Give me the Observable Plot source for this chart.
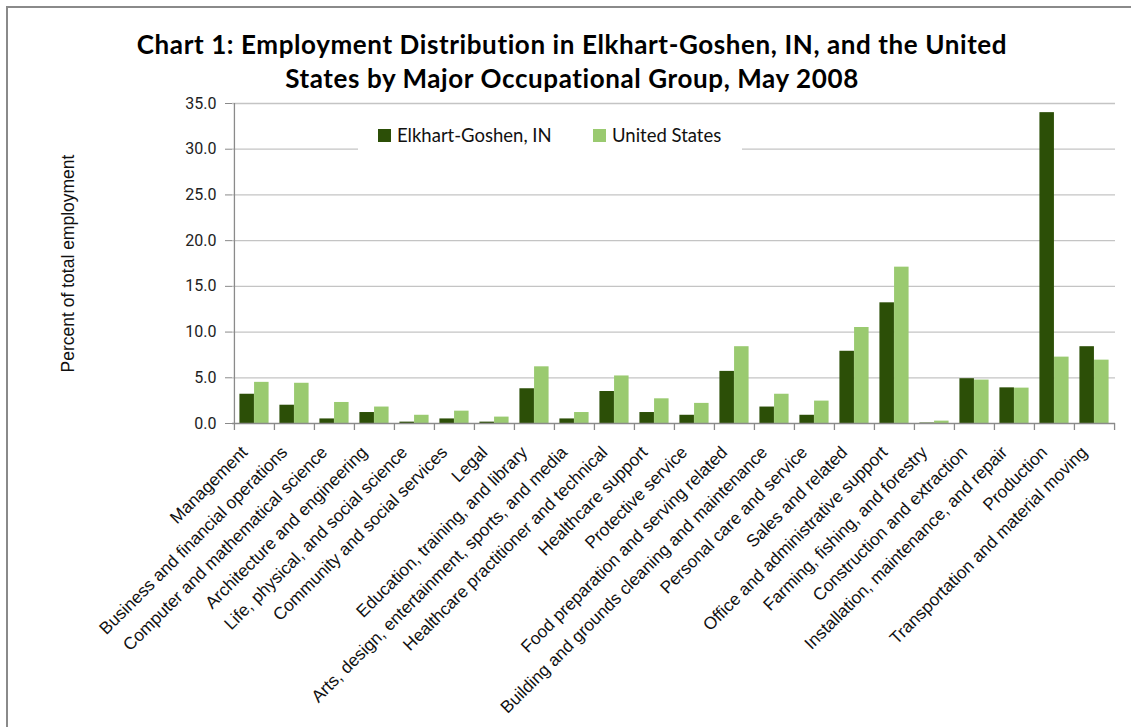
<!DOCTYPE html>
<html>
<head>
<meta charset="utf-8">
<script src="https://cdn.jsdelivr.net/npm/d3@7"></script>
<script src="https://cdn.jsdelivr.net/npm/@observablehq/plot@0.6"></script>
<style>
  html, body { margin: 0; padding: 0; background: #fff; }
  #wrap { position: relative; width: 1131px; height: 727px; overflow: hidden; background: #fff; }
  #border { position: absolute; left: 6px; top: 6px; width: 1200px; height: 800px; border-left: 2px solid #8a8a8a; border-top: 2px solid #8a8a8a; pointer-events: none; z-index: 5; }
  #title { position: absolute; left: 0; width: 1144px; top: 28px; text-align: center; font-family: Lato, "Open Sans", sans-serif; font-weight: 700; font-size: 26px; letter-spacing: 0.6px; line-height: 33.5px; color: #000; z-index: 3; }
  #legend { position: absolute; left: 358px; top: 120px; width: 384px; height: 32px; background: #fff; z-index: 3; font-family: Lato, "Open Sans", sans-serif; font-size: 18.5px; color: #111; }
  .item { position: absolute; top: 4px; display: flex; align-items: center; }
  .sw { width: 13px; height: 13px; margin-right: 6px; }
  #chart { position: absolute; left: 0; top: 0; }
</style>
</head>
<body>
<div id="wrap">
  <div id="chart"></div>
  <div id="title">Chart 1: Employment Distribution in Elkhart-Goshen, IN, and the United<br>States by Major Occupational Group, May 2008</div>
  <div id="legend"></div>
  <div id="border"></div>
</div>
<script>
const categories = [
  "Management",
  "Business and financial operations",
  "Computer and mathematical science",
  "Architecture and engineering",
  "Life, physical, and social science",
  "Community and social services",
  "Legal",
  "Education, training, and library",
  "Arts, design, entertainment, sports, and media",
  "Healthcare practitioner and technical",
  "Healthcare support",
  "Protective service",
  "Food preparation and serving related",
  "Building and grounds cleaning and maintenance",
  "Personal care and service",
  "Sales and related",
  "Office and administrative support",
  "Farming, fishing, and forestry",
  "Construction and extraction",
  "Installation, maintenance, and repair",
  "Production",
  "Transportation and material moving"
];
const seriesNames = ["Elkhart-Goshen, IN", "United States"];
const elkhart = [3.2, 2.0, 0.5, 1.2, 0.15, 0.5, 0.15, 3.8, 0.5, 3.5, 1.2, 0.9, 5.7, 1.8, 0.9, 7.9, 13.2, 0.05, 4.9, 3.9, 34.0, 8.4];
const unitedStates = [4.5, 4.4, 2.3, 1.8, 0.9, 1.35, 0.7, 6.2, 1.2, 5.2, 2.7, 2.2, 8.4, 3.2, 2.45, 10.5, 17.1, 0.26, 4.75, 3.87, 7.26, 6.93];
const yTicks = [0, 5, 10, 15, 20, 25, 30, 35];
const colors = ["#2c4f07", "#9aca70"];
const yLabel = "Percent of total employment";

const width = 1131, height = 727;
const marginLeft = 232, marginRight = 16, marginTop = 103, marginBottom = 304;
const step = (width - marginLeft - marginRight) / categories.length;
const gap = step * 0.135;

const data = categories.map((c, i) => ({cat: c, elk: elkhart[i], us: unitedStates[i]}));

const chart = Plot.plot({
  width, height, marginLeft, marginRight, marginTop, marginBottom,
  style: {background: "transparent"},
  x: {domain: categories, padding: 0},
  y: {domain: [0, 35]},
  marks: [
    Plot.gridY(yTicks.filter(d => d > 0), {stroke: "#c4c4c4", strokeOpacity: 1, strokeWidth: 1.3}),
    Plot.barY(data, {x: "cat", y: "elk", fill: colors[0], insetLeft: gap, insetRight: step / 2}),
    Plot.barY(data, {x: "cat", y: "us", fill: colors[1], insetLeft: step / 2, insetRight: gap}),
    Plot.ruleY([0], {stroke: "#8a8a8a", strokeWidth: 1.3}),
    Plot.ruleX([categories[0]], {dx: -step / 2, y1: 0, y2: 35, stroke: "#8a8a8a", strokeWidth: 1.3}),
    Plot.ruleX(categories, {x: d => d, dx: -step / 2, y1: 0, y2: 0, insetBottom: -7, stroke: "#8a8a8a", strokeWidth: 1.3}),
    Plot.ruleX([categories[categories.length - 1]], {dx: step / 2, y1: 0, y2: 0, insetBottom: -7, stroke: "#8a8a8a", strokeWidth: 1.3}),
    Plot.axisY({ticks: yTicks, tickFormat: d3.format(".1f"), tickSize: 7, tickPadding: 9, label: null, fontSize: 16, fontFamily: "Roboto, sans-serif", stroke: "#8a8a8a", color: "#222"}),
    Plot.axisX({tickRotate: -45, tickSize: 0, tickPadding: 26, dx: -10, label: null, fontSize: 17.3, fontFamily: "'Liberation Sans', Arial, sans-serif", color: "#111"}),
    Plot.text([yLabel], {frameAnchor: "left", dx: -164, rotate: -90, textAnchor: "middle", fontSize: 17.5, fontFamily: "'Liberation Sans', Arial, sans-serif", fill: "#111"})
  ]
});
document.getElementById("chart").appendChild(chart);

const legend = document.getElementById("legend");
const lx = [20, 235];
seriesNames.forEach((s, i) => {
  const it = document.createElement("div");
  it.className = "item";
  it.style.left = lx[i] + "px";
  const sw = document.createElement("div");
  sw.className = "sw";
  sw.style.background = colors[i];
  const t = document.createElement("span");
  t.textContent = s;
  it.appendChild(sw); it.appendChild(t);
  legend.appendChild(it);
});
</script>
</body>
</html>
